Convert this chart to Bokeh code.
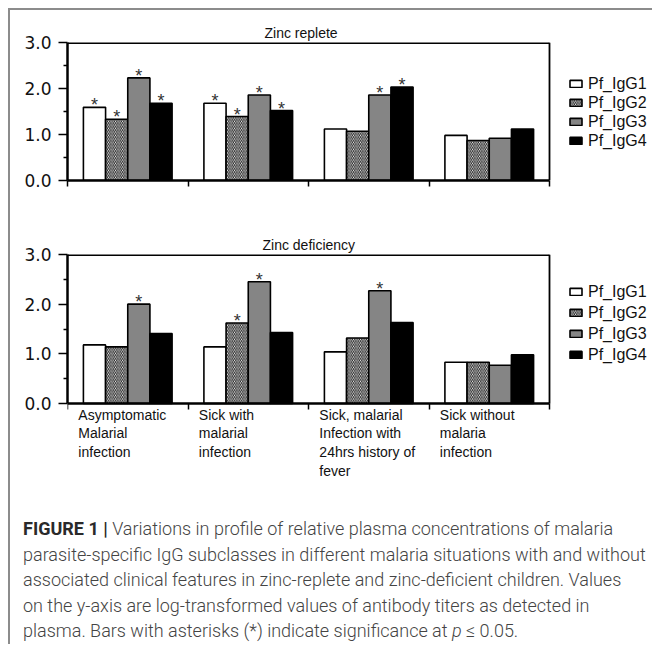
from bokeh.plotting import figure
from bokeh.models import (Range1d, FixedTicker, ColumnDataSource, Legend, LegendItem,
                          NumeralTickFormatter, Div, Spacer)
from bokeh.layouts import column, row
from bokeh.core.properties import value
from bokeh.transform import dodge
from bokeh.embed import file_html
from bokeh.resources import INLINE

# ---------------- data ----------------
categories = [
    "Asymptomatic\nMalarial\ninfection",
    "Sick with\nmalarial\ninfection",
    "Sick, malarial\nInfection with\n24hrs history of\nfever",
    "Sick without\nmalaria\ninfection",
]
series = ["Pf_IgG1", "Pf_IgG2", "Pf_IgG3", "Pf_IgG4"]

replete_igg1 = [1.59, 1.68, 1.12, 0.98]
replete_igg2 = [1.33, 1.39, 1.07, 0.87]
replete_igg3 = [2.23, 1.86, 1.86, 0.92]
replete_igg4 = [1.68, 1.52, 2.03, 1.12]
replete_sig1 = [1, 1, 0, 0]
replete_sig2 = [1, 1, 0, 0]
replete_sig3 = [1, 1, 1, 0]
replete_sig4 = [1, 1, 1, 0]

deficient_igg1 = [1.18, 1.14, 1.04, 0.83]
deficient_igg2 = [1.14, 1.62, 1.32, 0.83]
deficient_igg3 = [2.00, 2.45, 2.27, 0.77]
deficient_igg4 = [1.41, 1.43, 1.63, 0.98]
deficient_sig1 = [0, 0, 0, 0]
deficient_sig2 = [0, 1, 0, 0]
deficient_sig3 = [1, 1, 1, 0]
deficient_sig4 = [0, 0, 0, 0]

y_ticks = [0, 1, 2, 3]
y_minor_ticks = [0.5, 1.5, 2.5]
titles = ["Zinc replete", "Zinc deficiency"]

caption_head = "FIGURE 1 |"
caption_lines = [
    "Variations in profile of relative plasma concentrations of malaria",
    "parasite-specific IgG subclasses in different malaria situations with and without",
    "associated clinical features in zinc-replete and zinc-deficient children. Values",
    "on the y-axis are log-transformed values of antibody titers as detected in",
    "plasma. Bars with asterisks (*) indicate significance at <i>p</i> &le; 0.05.",
]

# ---------------- styling ----------------
W = 642
FRAME_L = 57          # left border (px)
FRAME_R = 539         # right edge of the drawn box (px)
N_CAT = len(categories)
Y_MAX = 3
X_END = N_CAT * (W - FRAME_L) / (FRAME_R - FRAME_L)   # frame extends under the legend
BAR_W = 0.184
OFFSETS = [-1.5 * BAR_W, -0.5 * BAR_W, 0.5 * BAR_W, 1.5 * BAR_W]
FILLS = ["white", "white", "#858585", "black"]
HATCH = [None, "left_diagonal_line", None, None]
FONT = "Liberation Sans"
boundaries = list(range(N_CAT + 1))
label_pos = [i + 0.09 for i in range(N_CAT)]

x_shared = Range1d(0, X_END)


def make_panel(vals, sigs, title, title_offset, height, btop, bbottom, y_min,
               leg_y, leg_spacing, with_labels):
    p = figure(width=W, height=height, x_range=x_shared, y_range=Range1d(y_min, Y_MAX),
               output_backend="svg", toolbar_location=None,
               min_border_left=FRAME_L, min_border_right=0,
               min_border_top=btop, min_border_bottom=bbottom)
    p.background_fill_color = "white"
    p.border_fill_color = "white"
    p.xgrid.visible = False
    p.ygrid.visible = False
    p.outline_line_color = None

    p.title.text = title
    p.title.align = "left"
    p.title.offset = title_offset
    p.title.text_font = FONT
    p.title.text_font_style = "normal"
    p.title.text_font_size = "14px"
    p.title.text_color = "#111111"
    p.title.standoff = 3

    # box lines: top edge and right edge of the plotting box
    p.segment(x0=[0], y0=[Y_MAX], x1=[N_CAT], y1=[Y_MAX], line_color="black", line_width=3.2)
    p.segment(x0=[N_CAT], y0=[0], x1=[N_CAT], y1=[Y_MAX], line_color="black", line_width=1.8)

    src = ColumnDataSource(dict(xc=[i + 0.5 for i in range(N_CAT)],
                                v1=vals[0], v2=vals[1], v3=vals[2], v4=vals[3]))
    items = []
    for k in range(4):
        kw = dict(x=dodge("xc", OFFSETS[k]), top="v%d" % (k + 1), width=BAR_W, bottom=0,
                  source=src, fill_color=FILLS[k], line_color="black", line_width=1.6)
        if HATCH[k]:
            kw.update(hatch_pattern=HATCH[k], hatch_color="#1a1a1a", hatch_scale=3.5,
                      hatch_weight=1.0)
        r = p.vbar(**kw)
        items.append(LegendItem(label=series[k], renderers=[r]))

        sx, sy = [], []
        for i in range(N_CAT):
            if sigs[k][i]:
                sx.append(i + 0.5 + OFFSETS[k])
                sy.append(vals[k][i])
        if sx:
            p.text(x=sx, y=sy, text=value("*"), text_align="center",
                   text_baseline="alphabetic", y_offset=-2,
                   text_font=value(FONT), text_font_size="18px", text_color="#333333")

    # y axis
    ya = p.yaxis[0]
    ya.bounds = (0, Y_MAX)
    ya.ticker = FixedTicker(ticks=y_ticks, minor_ticks=y_minor_ticks)
    ya.formatter = NumeralTickFormatter(format="0.0")
    ya.axis_line_width = 2.5
    ya.major_tick_out = 9
    ya.major_tick_in = 0
    ya.minor_tick_out = 4
    ya.minor_tick_in = 0
    ya.major_tick_line_width = 1.5
    ya.minor_tick_line_width = 1.5
    ya.major_label_text_font = "DejaVu Sans"
    ya.major_label_text_font_size = "17px"
    ya.major_label_text_color = "#111111"
    ya.major_label_standoff = 7

    # x axis (box boundaries only)
    xa = p.xaxis[0]
    xa.bounds = (0, N_CAT)
    xa.ticker = FixedTicker(ticks=[], minor_ticks=boundaries)
    xa.axis_line_width = 2.5
    xa.minor_tick_out = 6
    xa.minor_tick_in = 0
    xa.minor_tick_line_width = 1.5
    xa.major_tick_line_color = None
    if with_labels:
        xa.fixed_location = 0
        p.text(x=label_pos, y=[0] * N_CAT, text=categories, text_align="left",
               text_baseline="top", y_offset=3, text_font=value(FONT),
               text_font_size="14px", text_line_height=1.18, text_color="#111111")

    legend = Legend(items=items, location=(FRAME_R - FRAME_L + 19, leg_y),
                    orientation="vertical",
                    border_line_color=None, background_fill_alpha=0,
                    padding=0, margin=0, glyph_width=15, glyph_height=9,
                    label_text_font=FONT, label_text_font_size="16px",
                    label_text_color="#111111", label_standoff=5,
                    label_height=19, spacing=leg_spacing)
    p.add_layout(legend, "center")
    return p


top = make_panel([replete_igg1, replete_igg2, replete_igg3, replete_igg4],
                 [replete_sig1, replete_sig2, replete_sig3, replete_sig4],
                 titles[0], 197, 190, 32, 20, 0, 30, 0, False)

# lower panel: frame continues below zero to host the category labels
B_H, B_TOP = 305, 54
ZERO_FROM_TOP = 149                       # px from frame top to the zero line
frame_h = B_H - B_TOP
y_min_b = -Y_MAX * (frame_h - ZERO_FROM_TOP) / ZERO_FROM_TOP
bottom = make_panel([deficient_igg1, deficient_igg2, deficient_igg3, deficient_igg4],
                    [deficient_sig1, deficient_sig2, deficient_sig3, deficient_sig4],
                    titles[1], 195, B_H, B_TOP, 0, y_min_b,
                    39 + (frame_h - ZERO_FROM_TOP), 2, True)

# caption
cap_html = ("<div style='padding:11px 0 0 13px; font-family:Roboto, sans-serif; "
            "font-size:18px; font-weight:300; line-height:25.5px; color:#444444; "
            "white-space:nowrap'>"
            "<b style='font-weight:700; color:#2a2a2a'>" + caption_head + "</b> "
            + caption_lines[0] + "<br>" + "<br>".join(caption_lines[1:]) + "</div>")
cap = Div(text=cap_html, width=W, height=139, margin=0)

top_line = Div(text="", width=644, height=2, margin=0,
               styles={"background-color": "#8c8c8c"})
left_line = Div(text="", width=2, height=634, margin=0,
                styles={"background-color": "#8c8c8c"})
inner = column(top_line,
               row(left_line, column(top, bottom, cap, spacing=0), spacing=0),
               spacing=0)
layout = column(Spacer(width=8, height=8),
                row(Spacer(width=8, height=8), inner, spacing=0),
                spacing=0)

open("out.html", "w").write(file_html(layout, INLINE))
